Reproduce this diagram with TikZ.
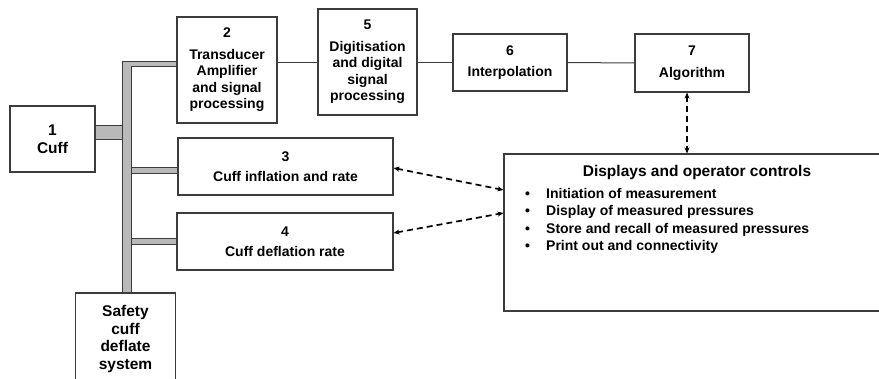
\documentclass[tikz,border=0pt]{standalone}
\usepackage{fontspec}
\setmainfont{Liberation Sans}
\usepackage{tikz}
\usetikzlibrary{arrows.meta}

\definecolor{edgegray}{RGB}{60,60,60}
\definecolor{pipegray}{RGB}{185,185,185}

\tikzset{
  blk/.style={draw=edgegray, line width=1.1pt, fill=white, align=center, inner sep=0pt,
    font=\bfseries\fontsize{14}{16.5}\selectfont},
  bigblk/.style={blk, font=\bfseries\fontsize{15.5}{17.5}\selectfont},
  pipe/.style={draw=edgegray, fill=pipegray, line width=0.8pt},
  wire/.style={draw=edgegray, line width=1pt},
  dasharrow/.style={line width=1.7pt, dash pattern=on 6pt off 4pt,
    {Stealth[length=6pt,width=5pt]}-{Stealth[length=6pt,width=5pt]}}
}

\begin{document}
\begin{tikzpicture}[x=1pt, y=-1pt]
	\useasboundingbox (0,0) rectangle (879,378);
	\clip (0,0) rectangle (879,378);

	% blocks
	\node[bigblk, minimum width=85pt, minimum height=66pt] (b1) at (52.5,139) {1\\Cuff};
	\node[blk, minimum width=100pt, minimum height=106pt] (b2) at (227,70) {2\\[5pt]Transducer\\Amplifier\\and signal\\processing};
	\node[blk, minimum width=99pt, minimum height=106pt] (b5) at (367.5,62) {5\\[5pt]Digitisation\\and digital\\signal\\processing};
	\node[blk, minimum width=114pt, minimum height=57pt] (b6) at (510,62.5) {6\\[5pt]Interpolation};
	\node[blk, minimum width=114pt, minimum height=58pt] (b7) at (692,63) {7\\[5pt]Algorithm};
	\node[blk, minimum width=215pt, minimum height=57pt] (b3) at (285.5,166.5) {3\\[4pt]Cuff inflation and rate};
	\node[blk, minimum width=216pt, minimum height=57pt] (b4) at (285,241.5) {4\\[4pt]Cuff deflation rate};
	\node[bigblk, minimum width=100pt, minimum height=92pt] (sf) at (125.5,339) {Safety\\cuff\\deflate\\system};
	\node[blk, minimum width=386pt, minimum height=157pt] (disp) at (697,232.5) {};
	\node[font=\bfseries\fontsize{15.5}{18}\selectfont, inner sep=0pt] (title) at (697,172) {Displays and operator controls};
	\node[anchor=west, align=left, inner sep=0pt, font=\bfseries\fontsize{14}{17.3}\selectfont] (items) at (525,221)
		{\makebox[21pt][l]{\textbullet}Initiation of measurement\\
		 \makebox[21pt][l]{\textbullet}Display of measured pressures\\
		 \makebox[21pt][l]{\textbullet}Store and recall of measured pressures\\
		 \makebox[21pt][l]{\textbullet}Print out and connectivity};

	% pneumatic pipes
	\coordinate (busL) at (122,61);
	\coordinate (busR) at (131,66);
	\draw[pipe] ([yshift=14pt]b1.east) rectangle (b1.east -| busL);
	\draw[pipe] (sf.north -| busL) -- (busL) -- (busL -| b2.west) -- (busR -| b2.west)
		-- (busR) -- (sf.north -| busR) -- cycle;
	\draw[pipe] ([yshift=-1pt]b3.west -| busR) rectangle ([yshift=-7pt]b3.west);
	\draw[pipe] ([yshift=3pt]b4.west -| busR) rectangle ([yshift=-3pt]b4.west);

	% signal chain
	\draw[wire] (b2.east |- b5.west) -- (b5.west);
	\draw[wire] (b5.east |- b6.west) -- (b6.west);
	\draw[wire] (b6.east) -- (b7.west);

	% operator links
	\draw[dasharrow] ([yshift=-1.5pt]b3.east) -- ([yshift=42.5pt]disp.west);
	\draw[dasharrow] ([yshift=8.5pt]b4.east) -- ([yshift=19.5pt]disp.west);
	\draw[dasharrow] ([xshift=-5pt]b7.south) -- ([xshift=-5pt]b7.south |- disp.north);
\end{tikzpicture}
\end{document}
